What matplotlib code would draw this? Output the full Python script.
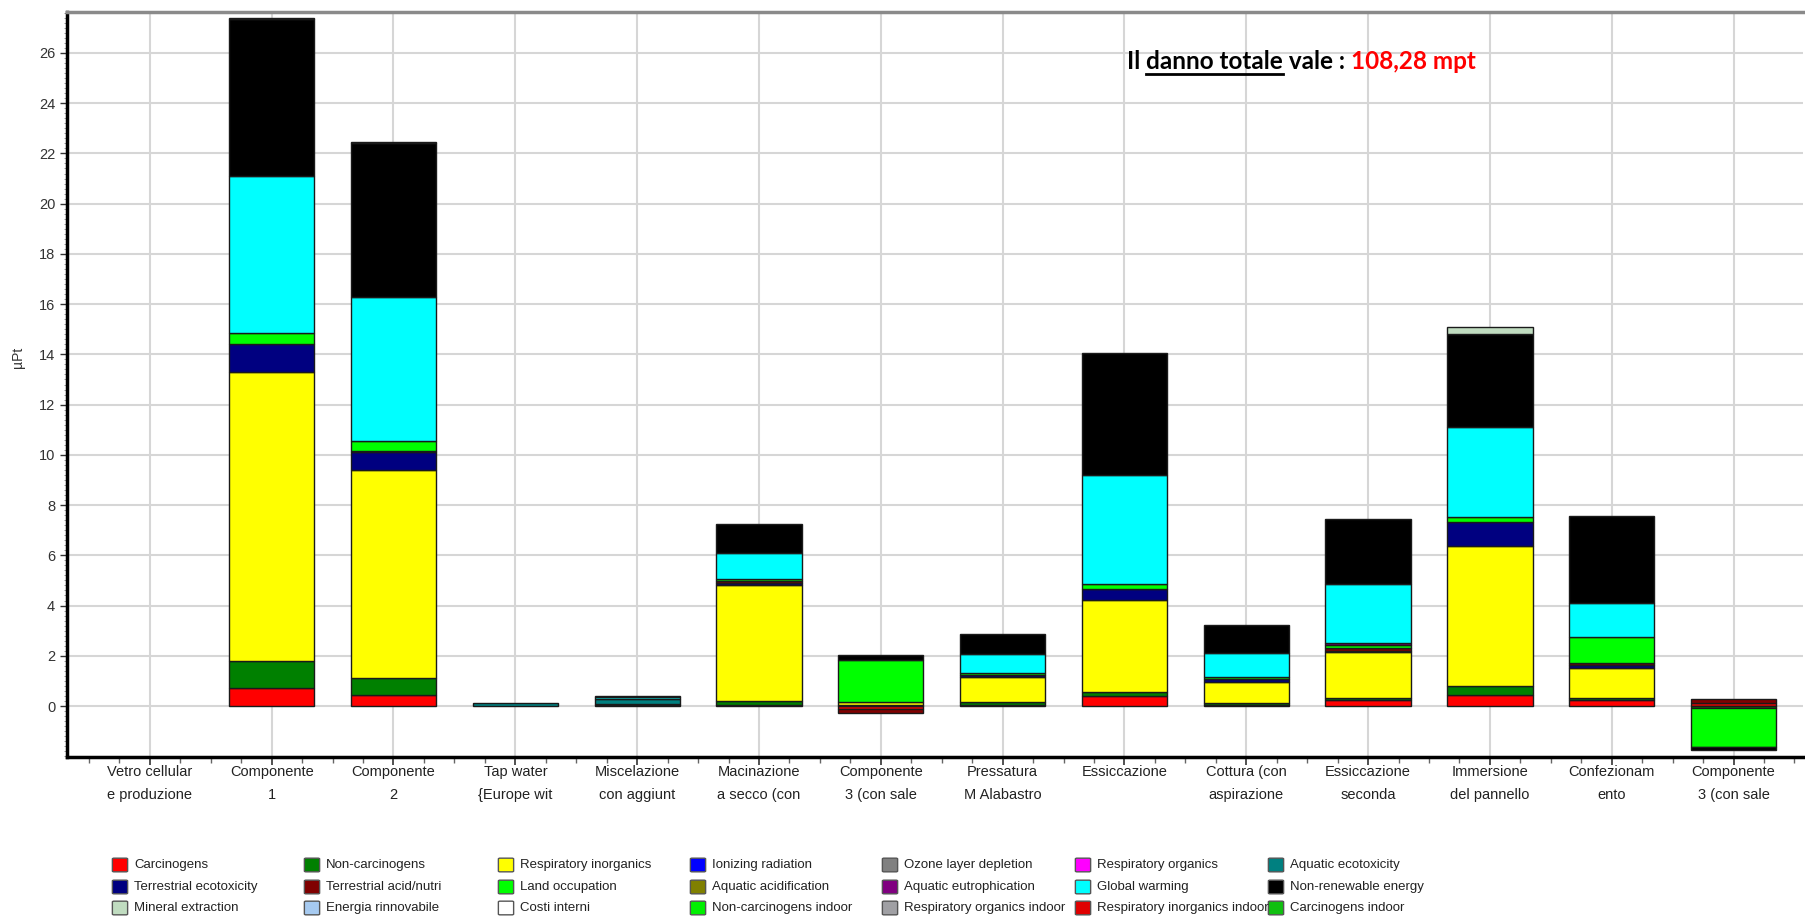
import numpy as np
import matplotlib
matplotlib.use("Agg")
import matplotlib.pyplot as plt
from matplotlib import font_manager
from matplotlib.patches import FancyBboxPatch
from matplotlib.lines import Line2D
from matplotlib.ticker import MultipleLocator

# process steps (x categories)
steps = ["Vetro cellular\ne produzione", "Componente\n1", "Componente\n2", "Tap water\n{Europe wit",
         "Miscelazione\ncon aggiunt", "Macinazione\na secco (con", "Componente\n3 (con sale",
         "Pressatura\nM Alabastro", "Essiccazione", "Cottura (con\naspirazione", "Essiccazione\nseconda",
         "Immersione\ndel pannello", "Confezionam\nento", "Componente\n3 (con sale"]

# impact categories, in legend / stacking order
impacts = ["Carcinogens", "Non-carcinogens", "Respiratory inorganics", "Ionizing radiation",
           "Ozone layer depletion", "Respiratory organics", "Aquatic ecotoxicity",
           "Terrestrial ecotoxicity", "Terrestrial acid/nutri", "Land occupation", "Aquatic acidification",
           "Aquatic eutrophication", "Global warming", "Non-renewable energy",
           "Mineral extraction", "Energia rinnovabile", "Costi interni", "Non-carcinogens indoor",
           "Respiratory organics indoor", "Respiratory inorganics indoor", "Carcinogens indoor"]
colors = ["#FF0000", "#008000", "#FFFF00", "#0000FF", "#808080", "#FF00FF", "#008080",
          "#000080", "#800000", "#00FF00", "#808000", "#800080", "#00FFFF", "#000000",
          "#C0DCC0", "#A6CAF0", "#FFFFFF", "#00F000", "#A0A0A4", "#E00000", "#10C010"]

# µPt per step
carcinogens   = [0, 0.73, 0.42, 0, 0, 0.05, -0.12, 0.05, 0.40, 0.03, 0.22, 0.44, 0.22, 0.12]
non_carc      = [0, 1.07, 0.68, 0, 0.05, 0.15, 0.04, 0.12, 0.17, 0.10, 0.08, 0.35, 0.08, -0.08]
resp_inorg    = [0, 11.5, 8.30, 0, 0.02, 4.60, 0.12, 1.00, 3.66, 0.83, 1.85, 5.60, 1.23, 0]
aquatic_eco   = [0, 0, 0, 0.10, 0.22, 0, 0, 0, 0, 0, 0, 0, 0, 0]
terr_eco      = [0, 1.10, 0.70, 0, 0, 0.10, 0, 0.08, 0.44, 0.10, 0.05, 0.92, 0.10, 0]
terr_acid     = [0, 0, 0.05, 0, 0, 0.07, -0.17, 0, 0, 0, 0.12, 0, 0.09, 0.15]
land_occ      = [0, 0.45, 0.40, 0, 0, 0.08, 1.66, 0.05, 0.20, 0.08, 0.10, 0.23, 1.01, -1.55]
aquatic_eutro = [0, 0, 0, 0, 0, 0, 0, 0, 0, 0, 0.08, 0, 0, 0]
global_warm   = [0, 6.25, 5.75, 0, 0.06, 1.03, 0, 0.79, 4.33, 0.98, 2.35, 3.56, 1.37, 0]
non_renew     = [0, 6.25, 6.10, 0, 0, 1.17, 0.20, 0.77, 4.85, 1.09, 2.58, 3.70, 3.48, -0.12]
mineral       = [0, 0.05, 0.05, 0, 0.03, 0, 0, 0, 0, 0, 0, 0.30, 0, 0]

values = {
    "Carcinogens": carcinogens,
    "Non-carcinogens": non_carc,
    "Respiratory inorganics": resp_inorg,
    "Aquatic ecotoxicity": aquatic_eco,
    "Terrestrial ecotoxicity": terr_eco,
    "Terrestrial acid/nutri": terr_acid,
    "Land occupation": land_occ,
    "Aquatic eutrophication": aquatic_eutro,
    "Global warming": global_warm,
    "Non-renewable energy": non_renew,
    "Mineral extraction": mineral,
}


def pick_font(names):
    for n in names:
        try:
            font_manager.findfont(n, fallback_to_default=False)
            return n
        except Exception:
            pass
    return "DejaVu Sans"


small_font = pick_font(["Liberation Sans Narrow", "Liberation Sans", "DejaVu Sans"])
big_font = pick_font(["Lato", "Open Sans", "DejaVu Sans"])
plt.rcParams["font.family"] = [small_font, "DejaVu Sans"]

W, H = 1806, 924
fig = plt.figure(figsize=(W / 100, H / 100), dpi=100)
ax = fig.add_axes([67 / W, 1 - 757 / H, 1736 / W, 745 / H])

x = np.arange(len(steps))
pos_bottom = np.zeros(len(steps))
neg_bottom = np.zeros(len(steps))
for name, col in zip(impacts, colors):
    if name not in values:
        continue
    v = np.array(values[name], dtype=float)
    m = v > 0
    if m.any():
        ax.bar(x[m], v[m], bottom=pos_bottom[m], width=0.7, color=col,
               edgecolor="#1a1a1a", linewidth=1.0, zorder=3)
        pos_bottom[m] += v[m]
    m = v < 0
    if m.any():
        ax.bar(x[m], v[m], bottom=neg_bottom[m], width=0.7, color=col,
               edgecolor="#1a1a1a", linewidth=1.0, zorder=3)
        neg_bottom[m] += v[m]

ax.set_xlim(-0.68, 13.57)
ax.set_ylim(-2.03, 27.63)
ax.set_xticks(x)
ax.set_xticklabels(steps, fontsize=10.5, color="#222222", linespacing=1.75, va="top")
ax.xaxis.set_minor_locator(MultipleLocator(0.25))
ax.yaxis.set_major_locator(MultipleLocator(2))
ax.yaxis.set_minor_locator(MultipleLocator(0.2))
ax.set_yticks(np.arange(0, 27, 2))
ax.tick_params(axis="y", labelsize=10.5, colors="#333333", length=5, width=1)
ax.tick_params(axis="y", which="minor", length=2, color="#888888")
ax.tick_params(axis="x", length=6, width=1.2, color="#333333", pad=0)
ax.tick_params(axis="x", which="minor", length=4, width=1, color="#666666")
ax.grid(True, which="major", color="#d6d6d6", linewidth=1.5, zorder=0)
ax.set_axisbelow(True)
for s in ["left", "bottom"]:
    ax.spines[s].set_linewidth(2.5)
    ax.spines[s].set_color("black")
ax.spines["top"].set_linewidth(2.5)
ax.spines["top"].set_color("#8a8a8a")
ax.spines["right"].set_visible(False)
fig.text(18 / W, 1 - 357 / H, "µPt", rotation=90, fontsize=10, color="#333333",
         ha="center", va="center")

# legend grid, 7 columns x 3 rows
col_x = [120, 312, 506, 698, 890, 1083, 1276]
row_y = [865, 887, 908]
for i, (name, col) in enumerate(zip(impacts, colors)):
    cx = col_x[i % 7]
    cy = row_y[i // 7]
    box = FancyBboxPatch(((cx - 6) / W, 1 - (cy + 6) / H), 12 / W, 12 / H,
                         boxstyle="round,pad=0.0009", transform=fig.transFigure,
                         facecolor=col, edgecolor="#555555", linewidth=1.0)
    fig.patches.append(box)
    fig.text((cx + 14) / W, 1 - cy / H, name, fontsize=9.5, color="#222222",
             ha="left", va="center")

# annotation with underlined words
pieces = [("Il ", "black", False), ("danno totale", "black", True),
          (" vale : ", "black", False), ("108,28 mpt", "red", False)]
fig.canvas.draw()
r = fig.canvas.get_renderer()
px = 1127
base = H - 69
for txt, c, ul in pieces:
    t = fig.text(px / W, base / H, txt, fontsize=17.5, fontweight="bold", color=c,
                 family=big_font, ha="left", va="baseline")
    bb = t.get_window_extent(r)
    if ul:
        fig.add_artist(Line2D([px / W, (px + bb.width) / W], [(base - 5) / H, (base - 5) / H],
                              transform=fig.transFigure, color="black", linewidth=2))
    px += bb.width

fig.savefig("out.png", dpi=100)
